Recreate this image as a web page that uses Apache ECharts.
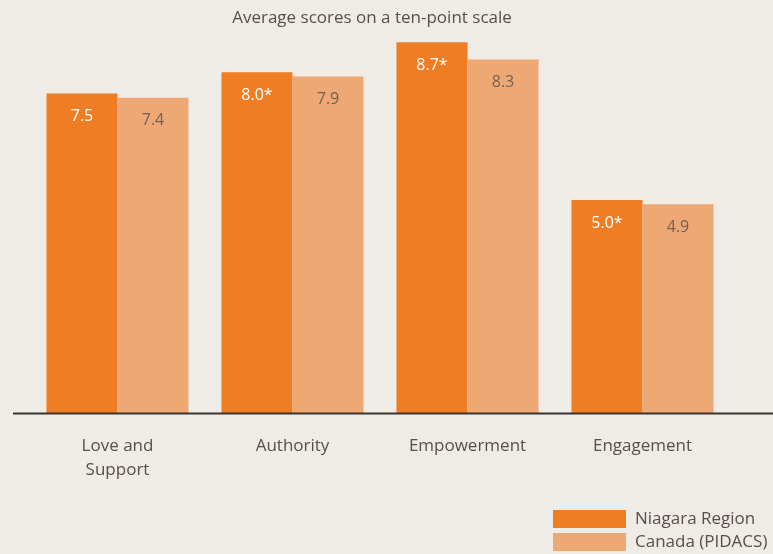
<!DOCTYPE html>
<html><head><meta charset="utf-8">
<script src="https://cdn.jsdelivr.net/npm/echarts@6/dist/echarts.min.js"></script>
<style>html,body{margin:0;padding:0;background:#efebe6;}#c{width:773px;height:554px;}</style>
</head><body><div id="c"></div>
<script>
const categories = ['Love and\nSupport', 'Authority', 'Empowerment', 'Engagement'];
const niagara = [7.5, 8.0, 8.7, 5.0];
const niagaraLabels = ['7.5', '8.0*', '8.7*', '5.0*'];
const canada = [7.4, 7.9, 8.3, 4.9];
const canadaLabels = ['7.4', '7.9', '8.3', '4.9'];
const seriesNames = ['Niagara Region', 'Canada (PIDACS)'];
const title = 'Average scores on a ten-point scale';

const FONT = '"Open Sans", sans-serif';
const TXT = '#5a4f45';
const chart = echarts.init(document.getElementById('c'));
chart.setOption({
  backgroundColor: '#efebe6',
  animation: false,
  title: { text: title, left: 367, top: 5, textAlign: 'center',
    textStyle: { fontFamily: FONT, fontSize: 17, fontWeight: 'normal', color: TXT } },
  legend: { orient: 'vertical', left: 553, top: 510, padding: 0, itemWidth: 73, itemHeight: 18, itemGap: 5,
    icon: 'rect', data: seriesNames,
    textStyle: { fontFamily: FONT, fontSize: 17, color: TXT, padding: [0, 0, 0, 4] } },
  grid: { left: 30, right: 43, top: 4, bottom: 141 },
  xAxis: { type: 'category', data: categories,
    axisLine: { show: false }, axisTick: { show: false },
    axisLabel: { fontFamily: FONT, fontSize: 17, color: TXT, margin: 21, lineHeight: 24 } },
  yAxis: { type: 'value', min: 0, max: 9.6, show: false, splitLine: { show: false } },
  graphic: [{ type: 'line', shape: { x1: 13, y1: 413.5, x2: 773, y2: 413.5 },
    style: { stroke: '#3a3530', lineWidth: 2 }, z: 10 }],
  series: [
    { name: seriesNames[0], type: 'bar', data: niagara, barWidth: 71, barGap: '0%',
      itemStyle: { color: '#ee7d24' },
      label: { show: true, position: 'insideTop', distance: 15, fontFamily: FONT, fontSize: 16, color: '#ffffff',
        formatter: p => niagaraLabels[p.dataIndex] } },
    { name: seriesNames[1], type: 'bar', data: canada, barWidth: 71,
      itemStyle: { color: '#eea873' },
      label: { show: true, position: 'insideTop', distance: 15, fontFamily: FONT, fontSize: 16, color: '#6e6254',
        formatter: p => canadaLabels[p.dataIndex] } }
  ]
});
</script></body></html>
